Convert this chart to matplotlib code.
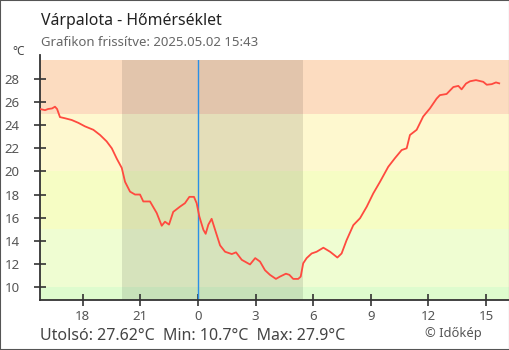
import matplotlib
matplotlib.use("Agg")
import matplotlib.pyplot as plt
from matplotlib.patches import Rectangle

plt.rcParams['font.family'] = ['Noto Sans', 'DejaVu Sans']

# hours relative to midnight (negative = previous evening)
hours = [-8.23, -7.97, -7.81, -7.60, -7.45, -7.34, -7.19, -6.93, -6.58, -6.23,
         -5.89, -5.45, -5.10, -4.76, -4.49, -4.23, -3.97, -3.80, -3.54, -3.28,
         -3.02, -2.85, -2.50, -2.15, -1.89, -1.72, -1.51, -1.29, -0.94, -0.68,
         -0.45, -0.21, -0.07, 0.07, 0.28, 0.40, 0.54, 0.71, 0.89, 1.15,
         1.41, 1.76, 1.98, 2.28, 2.71, 2.98, 3.23, 3.49, 3.75, 4.06,
         4.27, 4.58, 4.76, 4.96, 5.22, 5.35, 5.48, 5.66, 5.92, 6.18,
         6.53, 6.88, 7.26, 7.48, 7.74, 8.09, 8.44, 8.79, 9.13, 9.48,
         9.91, 10.26, 10.61, 10.87, 11.04, 11.39, 11.73, 12.08, 12.43, 12.60,
         12.95, 13.30, 13.56, 13.73, 13.96, 14.17, 14.48, 14.86, 15.04, 15.30,
         15.52, 15.69]
temps = [25.4, 25.3, 25.4, 25.45, 25.6, 25.4, 24.7, 24.6, 24.45, 24.2,
         23.9, 23.6, 23.15, 22.6, 22.0, 21.1, 20.3, 19.1, 18.25, 18.0,
         18.0, 17.4, 17.4, 16.4, 15.3, 15.65, 15.4, 16.5, 16.95, 17.25,
         17.8, 17.8, 17.25, 16.1, 14.95, 14.6, 15.4, 15.9, 14.95, 13.6,
         13.05, 12.85, 13.0, 12.35, 11.95, 12.5, 12.2, 11.45, 11.05, 10.7,
         10.9, 11.15, 11.05, 10.7, 10.7, 10.9, 12.05, 12.5, 12.9, 13.05,
         13.4, 13.05, 12.55, 12.9, 14.05, 15.35, 15.95, 16.95, 18.1, 19.1,
         20.4, 21.15, 21.85, 22.0, 23.15, 23.6, 24.75, 25.45, 26.3, 26.6,
         26.7, 27.3, 27.4, 27.1, 27.6, 27.8, 27.9, 27.75, 27.5, 27.55,
         27.7, 27.62]

# colour bands by temperature
band_edges = [-50, 10, 15, 20, 25, 50]
band_colors = ['#defcce', '#effdd2', '#f6fdc4', '#fef8cf', '#fcdcc0']

sunset, sunrise = -3.96, 5.47
xticks = [-6, -3, 0, 3, 6, 9, 12, 15]
xtick_labels = ['18', '21', '0', '3', '6', '9', '12', '15']
yticks = [10, 12, 14, 16, 18, 20, 22, 24, 26, 28]

fig = plt.figure(figsize=(5.1, 3.5), dpi=100)
ax = fig.add_axes([40 / 510, 50 / 350, 469 / 510, 240 / 350])
ax.set_xlim(-8.23, 16.2)
ax.set_ylim(8.875, 29.64)

for lo, hi, c in zip(band_edges[:-1], band_edges[1:], band_colors):
    ax.axhspan(lo, hi, color=c, lw=0, zorder=0)
ax.axvspan(sunset, sunrise, color='black', alpha=0.1, lw=0, zorder=1)
ax.axvline(0, color='#2a8fe6', lw=1, zorder=2)
ax.plot(hours, temps, color='#ff4a3f', lw=1.3, zorder=3)

for s in ['top', 'right']:
    ax.spines[s].set_visible(False)
for s in ['left', 'bottom']:
    ax.spines[s].set_color('#333333')
    ax.spines[s].set_linewidth(1.3)
ax.spines['left'].set_bounds(8.875, 30.1)
ax.spines['left'].set_clip_on(False)

ax.set_xticks(xticks)
ax.set_xticklabels(xtick_labels)
ax.set_yticks(yticks)
ax.tick_params(direction='inout', length=9, width=1.2, color='#333333',
               labelcolor='#555555', labelsize=9.5)
ax.tick_params(axis='y', pad=10)
ax.tick_params(axis='x', pad=3)

fig.text(41 / 510, 1 - 25 / 350, 'Várpalota - Hőmérséklet', fontsize=11.4,
         color='#222222', va='baseline')
fig.text(41 / 510, 1 - 46 / 350, 'Grafikon frissítve: 2025.05.02 15:43',
         fontsize=9.5, color='#666666', va='baseline')
fig.text(12 / 510, 1 - 55 / 350, '°C', fontsize=8.5, color='#444444',
         va='baseline')
fig.text(40 / 510, 1 - 340 / 350,
         'Utolsó: 27.62°C  Min: 10.7°C  Max: 27.9°C', fontsize=11.5,
         color='#444444', va='baseline')
fig.text(425 / 510, 1 - 337 / 350, '© Időkép', fontsize=9.3,
         color='#555555', va='baseline')

# frame around the whole image
fig.patches.append(Rectangle((0, 0), 1, 1, transform=fig.transFigure,
                             fill=False, ec='#555555', lw=1.5))

fig.savefig('out.png', dpi=100)
